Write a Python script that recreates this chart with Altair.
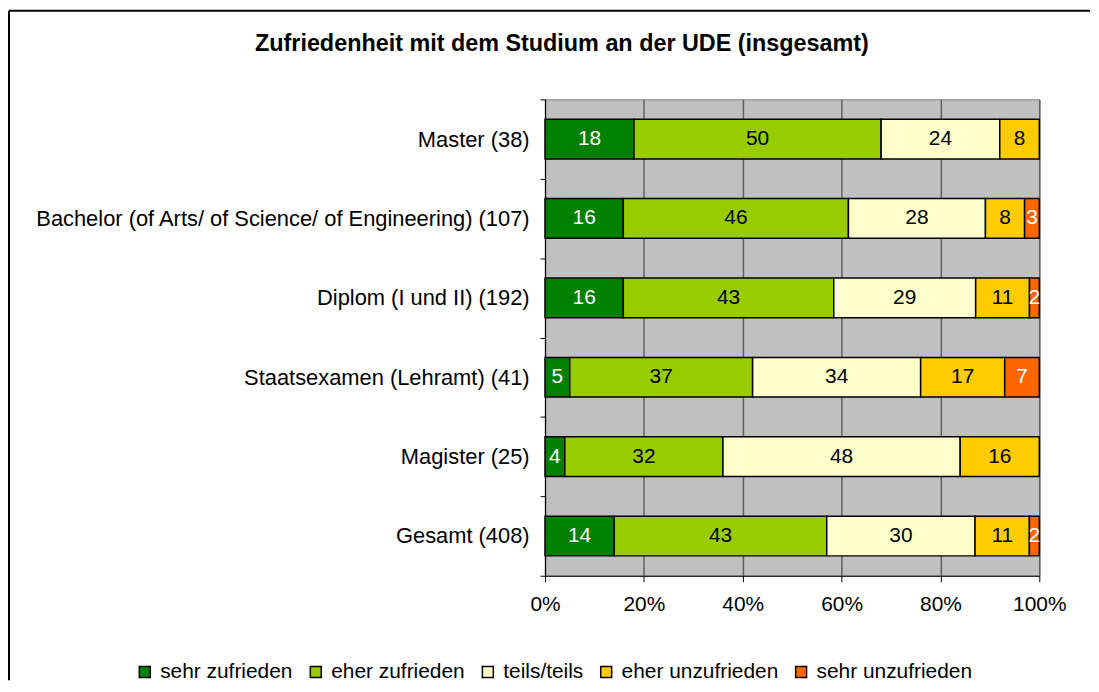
import altair as alt
import pandas as pd

categories = [
    "Master (38)",
    "Bachelor (of Arts/ of Science/ of Engineering) (107)",
    "Diplom (I und II) (192)",
    "Staatsexamen (Lehramt) (41)",
    "Magister (25)",
    "Gesamt (408)",
]
levels = ["sehr zufrieden", "eher zufrieden", "teils/teils", "eher unzufrieden", "sehr unzufrieden"]
colors = ["#008000", "#99CC00", "#FFFFCC", "#FFCC00", "#FF6600"]
text_colors = ["white", "black", "black", "black", "white"]

sehr_zufrieden = [18, 16, 16, 5, 4, 14]
eher_zufrieden = [50, 46, 43, 37, 32, 43]
teils_teils = [24, 28, 29, 34, 48, 30]
eher_unzufrieden = [8, 8, 11, 17, 16, 11]
sehr_unzufrieden = [0, 3, 2, 7, 0, 2]

title_text = "Zufriedenheit mit dem Studium an der UDE (insgesamt)"
x_ticks = [0, 0.2, 0.4, 0.6, 0.8, 1.0]

series = [sehr_zufrieden, eher_zufrieden, teils_teils, eher_unzufrieden, sehr_unzufrieden]
rows = []
for li, (lev, vals) in enumerate(zip(levels, series)):
    for cat, v in zip(categories, vals):
        if v > 0:
            rows.append({"cat": cat, "level": lev, "idx": li, "value": v, "tcol": text_colors[li]})
df = pd.DataFrame(rows)

FONT = "Liberation Sans"
FS = 21

base = alt.Chart(df).transform_stack(
    stack="value", groupby=["cat"], sort=[alt.SortField("idx", order="ascending")],
    offset="normalize", as_=["x0", "x1"]
).transform_calculate(mid="(datum.x0 + datum.x1) / 2")

y_enc = alt.Y(
    "cat:N", sort=categories, title=None,
    scale=alt.Scale(paddingInner=0, paddingOuter=0),
    axis=alt.Axis(tickBand="extent", labelFontSize=22, labelFont=FONT, labelColor="black",
                  domainColor="black", tickColor="black", tickSize=5, labelPadding=11,
                  labelLimit=800, grid=False),
)

bars = base.mark_bar(height={"band": 0.5}, stroke="black", strokeWidth=1.5).encode(
    x=alt.X("x0:Q", title=None, scale=alt.Scale(domain=[0, 1], nice=False),
            axis=alt.Axis(values=x_ticks, format="%", labelFontSize=FS, labelFont=FONT,
                          labelColor="black", domainColor="black", tickColor="black",
                          tickSize=6, labelPadding=12, labelFlush=False, grid=True,
                          gridColor="#606060", gridWidth=1.5)),
    x2="x1:Q",
    y=y_enc,
    color=alt.Color("level:N", scale=alt.Scale(domain=levels, range=colors),
                    legend=alt.Legend(title=None, orient="none", direction="horizontal",
                                      legendX=-413, legendY=565, labelFontSize=FS,
                                      labelFont=FONT, labelColor="black",
                                      symbolType="square", symbolSize=121,
                                      symbolStrokeColor="black", symbolStrokeWidth=1.5,
                                      columnPadding=12, labelOffset=5)),
)

labels = base.mark_text(fontSize=FS, font=FONT, baseline="middle", align="center").encode(
    x=alt.X("mid:Q"),
    y=alt.Y("cat:N", sort=categories),
    text=alt.Text("value:Q"),
    fill=alt.Fill("tcol:N", scale=None),
)

one = pd.DataFrame({"t": [title_text]})
title = alt.Chart(one).mark_text(fontSize=23.5, font=FONT, fontWeight="bold", baseline="middle",
                                 align="center").encode(
    x=alt.value(17), y=alt.value(-56), text="t:N")
left_line = alt.Chart(one).mark_rule(color="black", strokeWidth=2).encode(
    x=alt.value(-539), y=alt.value(-89), y2=alt.value(584))
top_line = alt.Chart(one).mark_rule(color="black", strokeWidth=2).encode(
    x=alt.value(-539), x2=alt.value(548), y=alt.value(-89))

chart = alt.layer(left_line, top_line, title, bars, labels).properties(
    width=497, height=479, padding=0, background="white"
).configure_view(fill="#C0C0C0", stroke="#808080")

chart.save("out.html", embed_options={"renderer": "svg", "actions": False})
